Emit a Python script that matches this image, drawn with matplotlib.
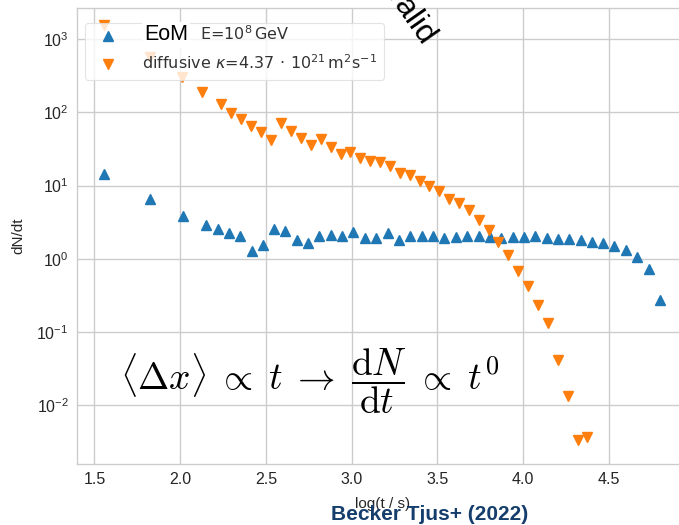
import matplotlib
matplotlib.use("Agg")
import matplotlib.pyplot as plt
import numpy as np

# ---- data ----
eom_logt = [1.557, 1.821, 2.017, 2.151, 2.218, 2.283, 2.349, 2.417, 2.483, 2.548,
            2.613, 2.679, 2.744, 2.811, 2.878, 2.945, 3.009, 3.076, 3.143, 3.210,
            3.277, 3.341, 3.408, 3.473, 3.540, 3.606, 3.673, 3.740, 3.807, 3.874,
            3.939, 4.005, 4.072, 4.139, 4.204, 4.268, 4.335, 4.402, 4.469, 4.533,
            4.600, 4.665, 4.732, 4.796]
eom_dndt = [14.4, 6.54, 3.90, 2.89, 2.55, 2.24, 2.02, 1.29, 1.54, 2.55,
            2.39, 1.80, 1.64, 2.06, 2.11, 2.02, 2.29, 1.92, 1.92, 2.22,
            1.82, 2.02, 2.02, 2.02, 1.95, 1.98, 2.06, 2.06, 1.98, 1.94,
            1.98, 1.98, 2.02, 1.95, 1.88, 1.88, 1.82, 1.72, 1.64, 1.51,
            1.33, 1.07, 0.72, 0.275]

diff_logt = [1.557, 1.821, 2.011, 2.127, 2.240, 2.296, 2.355, 2.413, 2.471, 2.530,
             2.588, 2.646, 2.705, 2.763, 2.820, 2.878, 2.936, 2.989, 3.051, 3.108,
             3.166, 3.223, 3.281, 3.339, 3.397, 3.454, 3.512, 3.569, 3.627, 3.685,
             3.743, 3.800, 3.855, 3.913, 3.971, 4.029, 4.086, 4.146, 4.204, 4.261,
             4.319, 4.375]
diff_dndt = [1574, 575, 303, 189, 130, 97.8, 81.8, 65.6, 54.8, 42.2,
             72.8, 56.0, 44.5, 36.1, 43.2, 33.6, 27.2, 28.7, 23.8, 22.0,
             20.9, 18.6, 15.1, 14.0, 11.6, 10.0, 8.49, 6.60, 5.77, 4.57,
             3.41, 2.44, 1.69, 1.13, 0.686, 0.428, 0.233, 0.132, 0.0417, 0.01315,
             0.00337, 0.00367]

xticks = [1.5, 2.0, 2.5, 3.0, 3.5, 4.0, 4.5]

W, H = 679, 525
fig = plt.figure(figsize=(W / 100, H / 100), dpi=100)
fig.patch.set_facecolor("white")

left, right, bottom, top = 77, 688, 464, 8
ax = fig.add_axes([left / W, 1 - bottom / H, (right - left) / W, (bottom - top) / H])
ax.set_facecolor("white")
ax.grid(True, which="major", color="#cccccc", lw=1.0)
ax.set_axisbelow(True)
for s in ax.spines.values():
    s.set_color("#cccccc")
    s.set_linewidth(1.0)

ax.plot(eom_logt, eom_dndt, ls="none", marker="^", ms=7.5, color="#1f77b4",
        label=" ")
ax.plot(diff_logt, diff_dndt, ls="none", marker="v", ms=7.5, color="#ff7f0e",
        label=r"diffusive $\kappa$=4.37$\,\cdot\,$10$^{21}\,$m$^2$s$^{-1}$")

ax.set_yscale("log")
ax.set_xlim(1.398, 4.962)
ax.set_ylim(10 ** -2.806, 10 ** 3.428)
ax.set_xticks(xticks)
ax.set_xticklabels([f"{v:.1f}" for v in xticks])
ax.minorticks_off()
ax.tick_params(axis="both", which="both", length=0, pad=6, labelsize=11.5,
               colors="#262626")
for lab in ax.get_xticklabels() + ax.get_yticklabels():
    lab.set_family("Liberation Sans")

ax.set_xlabel("log(t / s)", fontsize=11, family="Liberation Sans", color="#262626",
              labelpad=7)
ax.set_ylabel("dN/dt", fontsize=11, family="Liberation Sans", color="#262626",
              labelpad=8)

leg = ax.legend(loc="upper left", bbox_to_anchor=(0.0, 0.985), fontsize=11.5,
                framealpha=0.8, edgecolor="#dddddd", handletextpad=1.1,
                borderpad=0.45, labelspacing=0.55)
leg.get_frame().set_linewidth(0.8)
for t in leg.get_texts():
    t.set_color("#333333")

# overlay annotations
fig.text(144 / W, 1 - 35 / H, "EoM", fontsize=15.5, family="Liberation Sans",
         color="black", ha="left", va="center",
         bbox=dict(facecolor="white", edgecolor="none", pad=1.5))
fig.text(200 / W, 1 - 34 / H, r"E=10$^8\,$GeV", fontsize=11.5, color="#333333",
         ha="left", va="center")
fig.text(410 / W, 1 - 14 / H, "valid", fontsize=23, family="Liberation Sans",
         color="black", rotation=-55, rotation_mode="anchor",
         ha="center", va="center")

fig.text(310 / W, 1 - 381 / H,
         r"$\langle\Delta x\rangle\;\propto\;t\;\rightarrow\;\dfrac{\mathrm{d}N}{\mathrm{d}t}\;\propto\;t^0$",
         fontsize=27, color="black", ha="center", va="center", math_fontfamily="cm")

fig.text(430 / W, 1 - 515 / H, "Becker Tjus+ (2022)", fontsize=15, fontweight="bold",
         family=["Liberation Sans Narrow", "Liberation Sans"], color="#163e6c",
         ha="center", va="center")

fig.savefig("out.png", dpi=100, facecolor="white")
